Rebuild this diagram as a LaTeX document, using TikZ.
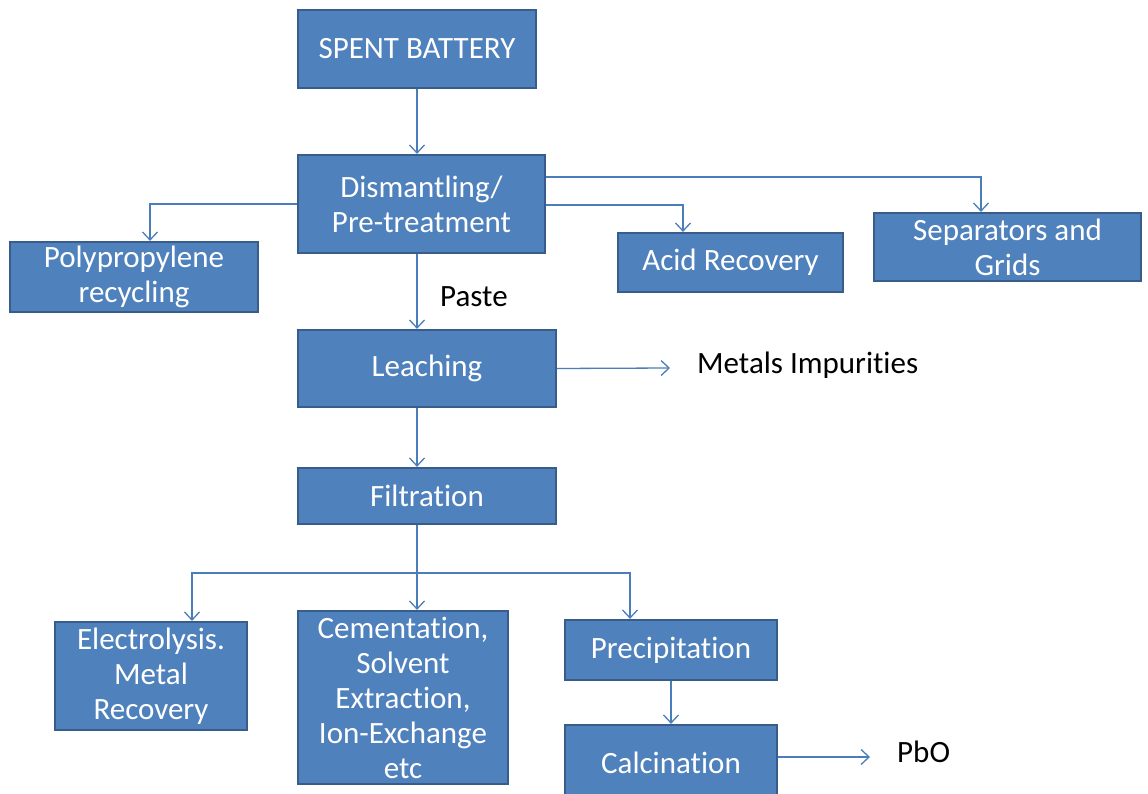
\documentclass[tikz,border=0pt]{standalone}
\usepackage{fontspec}
\setmainfont[Ligatures={NoCommon}]{Carlito}
\usetikzlibrary{arrows.meta,calc}
\definecolor{boxfill}{HTML}{4F81BD}
\definecolor{boxline}{HTML}{385D8A}
\definecolor{connblue}{HTML}{4A7EBB}
\begin{document}
\begin{tikzpicture}[x=1pt,y=-1pt,
 box/.style={draw=boxline, line width=2.2pt, fill=boxfill, text=white, align=center, inner sep=0pt, font=\fontsize{31}{35}\selectfont},
 link/.style={draw=connblue, line width=1.3pt},
 arr/.style={link, -{Straight Barb[length=8pt,width=15pt,line width=1.3pt]}},
 lbl/.style={text=black, font=\fontsize{31}{35}\selectfont, inner sep=0pt}]
\useasboundingbox[fill=white] (0,0) rectangle (1148,794);
\node[box, minimum width=238pt, minimum height=78pt] (spent) at (417,49) {SPENT BATTERY};
\node[box, minimum width=247pt, minimum height=98pt] (dism) at (421.5,204) {Dismantling/\\Pre-treatment};
\node[box, minimum width=248pt, minimum height=70pt] (poly) at (134,277) {Polypropylene\\recycling};
\node[box, minimum width=225pt, minimum height=59pt] (acid) at (730.5,262.5) {Acid Recovery};
\node[box, minimum width=267pt, minimum height=68pt] (sep) at (1007.5,247) {Separators and\\Grids};
\node[box, minimum width=258pt, minimum height=77pt] (leach) at (427,368.5) {Leaching};
\node[box, minimum width=258pt, minimum height=56pt] (filt) at (427,496) {Filtration};
\node[box, minimum width=192pt, minimum height=108pt] (elec) at (151,676) {Electrolysis.\\Metal\\Recovery};
\node[box, minimum width=210pt, minimum height=173pt] (cem) at (403,697.5) {Cementation,\\Solvent\\Extraction,\\Ion-Exchange\\etc};
\node[box, minimum width=212pt, minimum height=60pt] (prec) at (671,650) {Precipitation};
\node[box, minimum width=212pt, minimum height=76pt] (calc) at (671,763) {Calcination};
\node[lbl, anchor=west] (paste) at (440,297) {Paste};
\node[lbl, anchor=west] (metals) at (697,365) {Metals Impurities};
\node[lbl, anchor=west] (pbo) at (897,752) {PbO};
\coordinate (metalsend) at (670,368);
\coordinate (pboend) at (870,757);
\coordinate (split) at (417,573);
% connectors
\draw[arr] (spent.south) -- (spent.south |- dism.north);
\draw[arr] (dism.west) -| ($(poly.north)+(16,0)$);
\draw[arr] ($(dism.east)+(0,-27)$) -| ($(sep.north)+(-26.5,0)$);
\draw[arr] ($(dism.east)+(0,1)$) -| ($(acid.north)+(-47.5,0)$);
\draw[arr] (spent.south |- dism.south) -- (spent.south |- leach.north);
\draw[arr] (leach.east) -- (metalsend);
\draw[arr] (spent.south |- leach.south) -- (spent.south |- filt.north);
\draw[arr] (spent.south |- filt.south) -- (spent.south |- cem.north);
\draw[arr] (split) -| ($(elec.north)+(41,0)$);
\draw[arr] (split) -| ($(prec.north)+(-41,0)$);
\draw[arr] (prec.south) -- (calc.north);
\draw[arr] (calc.east |- pboend) -- (pboend);
\end{tikzpicture}
\end{document}
